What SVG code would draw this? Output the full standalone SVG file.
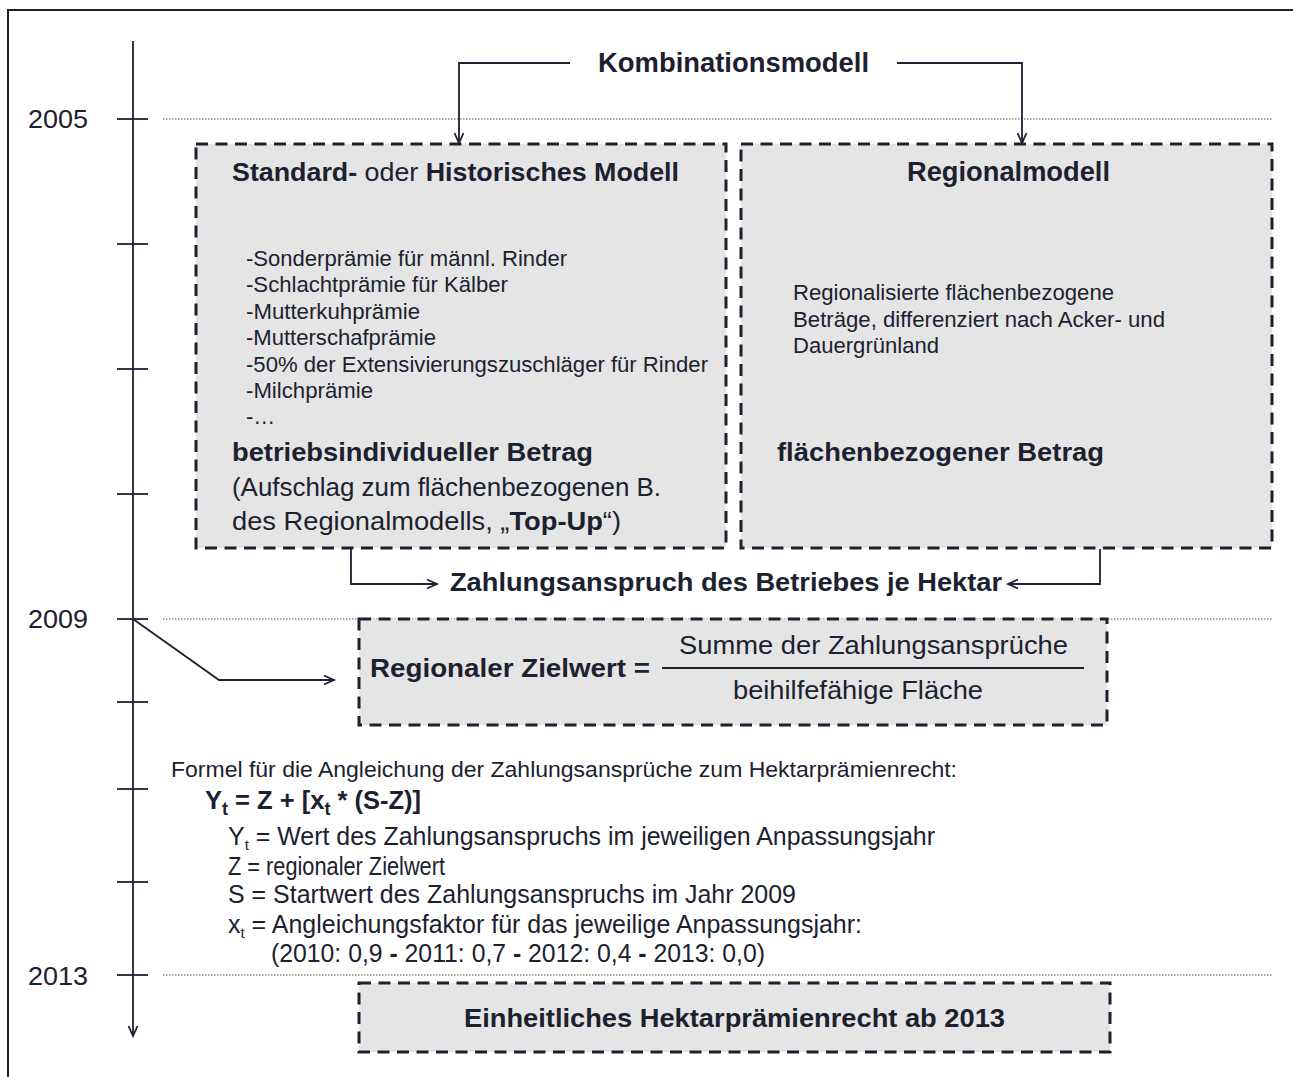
<svg xmlns="http://www.w3.org/2000/svg" width="1293" height="1077" viewBox="0 0 1293 1077">
<defs>
<style>
text{font-family:"Liberation Sans",Arial,sans-serif;fill:#1c2130}
.b{font-weight:bold}
.t26{font-size:27px}
.t24{font-size:25px}
.t20{font-size:22px}
.t22{font-size:25px}
.t18{font-size:22.5px}
.box{fill:#e5e5e5;stroke:#1c2130;stroke-width:3;stroke-dasharray:12 7.5}
.ln{fill:none;stroke:#1c2130;stroke-width:1.8}
.dot{fill:none;stroke:#555;stroke-width:1.2;stroke-dasharray:1.5 1.5}
</style>
<marker id="ah" markerUnits="userSpaceOnUse" markerWidth="16" markerHeight="12" refX="12" refY="6" orient="auto">
<path d="M2,1.5 L12,6 L2,10.5" fill="none" stroke="#1c2130" stroke-width="1.8"/>
</marker>
</defs>
<rect x="0" y="0" width="1293" height="1077" fill="#fff"/>
<rect x="8" y="10" width="1310" height="1100" fill="none" stroke="#1c2130" stroke-width="2"/>

<g id="timeline">
<line class="ln" x1="133" y1="41" x2="133" y2="1036" marker-end="url(#ah)"/>
<g class="ln">
<line x1="117" y1="119" x2="148" y2="119"/>
<line x1="117" y1="244" x2="148" y2="244"/>
<line x1="117" y1="369" x2="148" y2="369"/>
<line x1="117" y1="494" x2="148" y2="494"/>
<line x1="117" y1="619" x2="148" y2="619"/>
<line x1="117" y1="702" x2="148" y2="702"/>
<line x1="117" y1="789" x2="148" y2="789"/>
<line x1="117" y1="882" x2="148" y2="882"/>
<line x1="117" y1="975" x2="148" y2="975"/>
</g>
<line class="dot" x1="163" y1="119" x2="1272" y2="119"/>
<line class="dot" x1="163" y1="619" x2="1272" y2="619"/>
<line class="dot" x1="163" y1="975" x2="1272" y2="975"/>
<text class="t24" x="28" y="128" textLength="60" lengthAdjust="spacingAndGlyphs">2005</text>
<text class="t24" x="28" y="628" textLength="60" lengthAdjust="spacingAndGlyphs">2009</text>
<text class="t24" x="28" y="985" textLength="60" lengthAdjust="spacingAndGlyphs">2013</text>
</g>

<g id="kombinationsmodell">
<text class="t26 b" x="598" y="72" textLength="271" lengthAdjust="spacingAndGlyphs">Kombinationsmodell</text>
</g>

<g id="historisches-modell">
<rect class="box" x="196" y="144" width="530" height="404"/>
<text style="font-size:26.5px" x="232" y="181" textLength="447" lengthAdjust="spacingAndGlyphs"><tspan class="b">Standard-</tspan> oder <tspan class="b">Historisches Modell</tspan></text>
<text class="t20" x="246" y="266" textLength="321" lengthAdjust="spacingAndGlyphs">-Sonderprämie für männl. Rinder</text>
<text class="t20" x="246" y="292.4" textLength="262" lengthAdjust="spacingAndGlyphs">-Schlachtprämie für Kälber</text>
<text class="t20" x="246" y="318.8" textLength="174" lengthAdjust="spacingAndGlyphs">-Mutterkuhprämie</text>
<text class="t20" x="246" y="345.2" textLength="190" lengthAdjust="spacingAndGlyphs">-Mutterschafprämie</text>
<text class="t20" x="246" y="371.6" textLength="462" lengthAdjust="spacingAndGlyphs">-50% der Extensivierungszuschläger für Rinder</text>
<text class="t20" x="246" y="398" textLength="127" lengthAdjust="spacingAndGlyphs">-Milchprämie</text>
<text class="t20" x="246" y="424.4">-…</text>
<text class="t24 b" x="232" y="461" textLength="361" lengthAdjust="spacingAndGlyphs">betriebsindividueller Betrag</text>
<text class="t24" x="232" y="496" textLength="429" lengthAdjust="spacingAndGlyphs">(Aufschlag zum flächenbezogenen B.</text>
<text class="t24" x="232" y="530" textLength="389" lengthAdjust="spacingAndGlyphs">des Regionalmodells, „<tspan class="b">Top-Up</tspan>“)</text>
</g>

<g id="regionalmodell">
<rect class="box" x="741" y="144" width="531" height="404"/>
<text class="t26 b" x="907" y="181" textLength="203" lengthAdjust="spacingAndGlyphs">Regionalmodell</text>
<text class="t20" x="793" y="300" textLength="321" lengthAdjust="spacingAndGlyphs">Regionalisierte flächenbezogene</text>
<text class="t20" x="793" y="327" textLength="372" lengthAdjust="spacingAndGlyphs">Beträge, differenziert nach Acker- und</text>
<text class="t20" x="793" y="353" textLength="146" lengthAdjust="spacingAndGlyphs">Dauergrünland</text>
<text class="t24 b" x="777" y="461" textLength="327" lengthAdjust="spacingAndGlyphs">flächenbezogener Betrag</text>
</g>

<g id="zahlungsanspruch">
<text class="t24 b" x="450" y="591" textLength="552" lengthAdjust="spacingAndGlyphs">Zahlungsanspruch des Betriebes je Hektar</text>
</g>

<g id="regionaler-zielwert">
<rect class="box" x="359" y="619" width="748" height="106"/>
<text class="t24 b" x="370" y="677" textLength="280" lengthAdjust="spacingAndGlyphs">Regionaler Zielwert =</text>
<text class="t24" x="679" y="654" textLength="389" lengthAdjust="spacingAndGlyphs">Summe der Zahlungsansprüche</text>
<line class="ln" x1="662" y1="668" x2="1084" y2="668"/>
<text class="t24" x="733" y="699" textLength="250" lengthAdjust="spacingAndGlyphs">beihilfefähige Fläche</text>
</g>

<g id="formel">
<text class="t18" x="171" y="777" textLength="786" lengthAdjust="spacingAndGlyphs">Formel für die Angleichung der Zahlungsansprüche zum Hektarprämienrecht:</text>
<text class="b" style="font-size:25.5px" x="205" y="809">Y<tspan dy="6" style="font-size:18px">t</tspan><tspan dy="-6"> = Z + [x</tspan><tspan dy="6" style="font-size:18px">t</tspan><tspan dy="-6"> * (S-Z)]</tspan></text>
<text class="t22" x="228" y="845" textLength="707" lengthAdjust="spacingAndGlyphs">Y<tspan dy="5" style="font-size:15px">t</tspan><tspan dy="-5"> = Wert des Zahlungsanspruchs im jeweiligen Anpassungsjahr</tspan></text>
<text class="t22" x="228" y="875" textLength="217" lengthAdjust="spacingAndGlyphs">Z = regionaler Zielwert</text>
<text class="t22" x="228" y="903" textLength="568" lengthAdjust="spacingAndGlyphs">S = Startwert des Zahlungsanspruchs im Jahr 2009</text>
<text class="t22" x="228" y="933" textLength="634" lengthAdjust="spacingAndGlyphs">x<tspan dy="5" style="font-size:15px">t</tspan><tspan dy="-5"> = Angleichungsfaktor für das jeweilige Anpassungsjahr:</tspan></text>
<text class="t22" x="271" y="962" textLength="494" lengthAdjust="spacingAndGlyphs">(2010: 0,9 <tspan class="b">-</tspan> 2011: 0,7 <tspan class="b">-</tspan> 2012: 0,4 <tspan class="b">-</tspan> 2013: 0,0)</text>
</g>

<g id="hektarpraemienrecht">
<rect class="box" x="359" y="983" width="751" height="69"/>
<text class="t24 b" x="464" y="1027" textLength="541" lengthAdjust="spacingAndGlyphs">Einheitliches Hektarprämienrecht ab 2013</text>
</g>

<g id="connectors">
<polyline class="ln" points="570,63 459,63 459,143" marker-end="url(#ah)"/>
<polyline class="ln" points="897,63 1022,63 1022,143" marker-end="url(#ah)"/>
<polyline class="ln" points="351,549 351,584 437,584" marker-end="url(#ah)"/>
<polyline class="ln" points="1100,549 1100,584 1008,584" marker-end="url(#ah)"/>
<polyline class="ln" points="133,619 219,680 334,680" marker-end="url(#ah)"/>
</g>
</svg>
